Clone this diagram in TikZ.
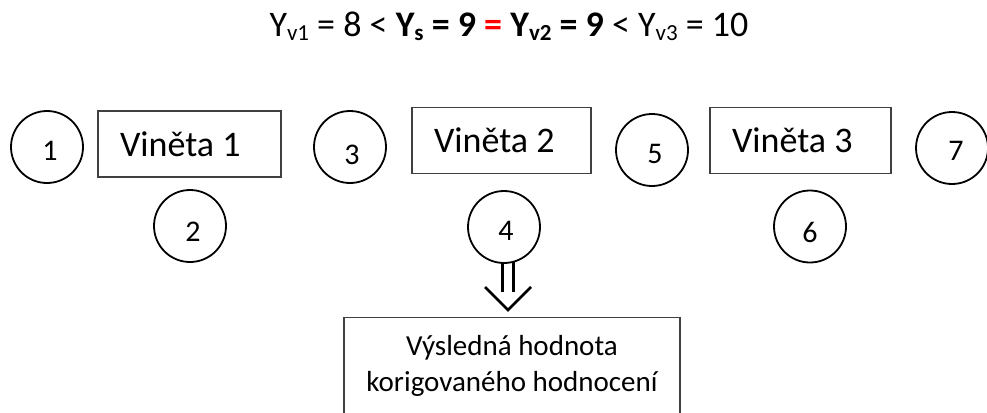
\documentclass[tikz,border=0pt]{standalone}
\usepackage{fontspec}
\setmainfont{Carlito}
\usetikzlibrary{calc}
\newcommand\mysub[1]{\raisebox{-3.5pt}{\fontsize{23}{23}\selectfont #1}}
\begin{document}
\begin{tikzpicture}[x=1pt,y=-1pt,
  num/.style={circle,draw=black,line width=1.8pt,minimum size=72pt,inner sep=0pt},
  numtext/.style={font=\fontsize{30}{36}\selectfont,inner sep=0pt},
  vbox/.style={draw=black!75,line width=1.2pt,minimum height=66pt,inner xsep=22pt,
    text width=#1,align=flush left,font=\fontsize{36}{43}\selectfont},
  resbox/.style={draw=black!75,line width=1.2pt,minimum width=336pt,minimum height=120pt,anchor=north},
  arrowline/.style={line width=2.6pt,black}
]
\useasboundingbox (0,0) rectangle (987,412);
\clip (0,0) rectangle (987,412);

% title
\node[anchor=base,font=\fontsize{36}{43}\selectfont,inner sep=0pt] (title) at (509,37)
  {Y\mysub{v1} = 8 < \textbf{Y\mysub{s} = 9} \textcolor{red}{\textbf{=}} \textbf{Y\mysub{v2} = 9} < Y\mysub{v3} = 10};

% boxes
\node[vbox=139pt] (b1) at (189.5,144) {Viněta 1};
\node[vbox=135pt] (b2) at (501.5,140.5) {Viněta 2};
\node[vbox=137pt] (b3) at (800.5,140.5) {Viněta 3};

% arrow
\coordinate (tip) at (508,310);
\draw[arrowline] ($(tip)+(-5.5,-50)$) -- ($(tip)+(-5.5,-18)$);
\draw[arrowline] ($(tip)+(5.5,-50)$) -- ($(tip)+(5.5,-18)$);
\draw[arrowline,line join=miter] ($(tip)+(-23,-23)$) -- (tip) -- ($(tip)+(23,-23)$);

% circles
\node[num,fill=white,label={[numtext,shift={(3,4)}]center:1}] (c1) at (47,147) {};
\node[num,fill=white,label={[numtext,shift={(3,6)}]center:2}] (c2) at (190,226) {};
\node[num,fill=white,label={[numtext,shift={(2,8)}]center:3}] (c3) at (350,147) {};
\node[num,fill=white,label={[numtext,shift={(2,4)}]center:4}] (c4) at (504,227) {};
\node[num,fill=white,label={[numtext,shift={(3,4)}]center:5}] (c5) at (652,150) {};
\node[num,fill=white,label={[numtext,shift={(0,6)}]center:6}] (c6) at (810,226.5) {};
\node[num,fill=white,label={[numtext,shift={(4,3)}]center:7}] (c7) at (952,148) {};

% result box
\node[resbox] (res) at (512,317) {};
\node[align=center,font=\fontsize{29}{36}\selectfont,inner sep=0pt] (restext) at (512,366)
  {Výsledná hodnota\\korigovaného hodnocení};
\end{tikzpicture}
\end{document}
